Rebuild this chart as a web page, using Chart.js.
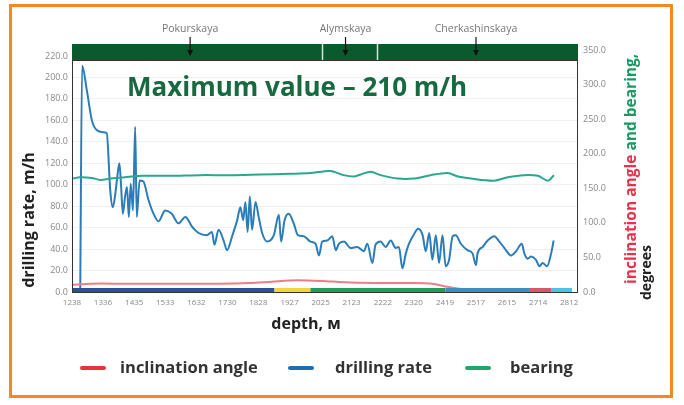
<!DOCTYPE html>
<html>
<head>
<meta charset="utf-8">
<script src="https://cdn.jsdelivr.net/npm/chart.js@4.4.1/dist/chart.umd.min.js"></script>
<style>
  html, body { margin: 0; padding: 0; background: #fff; }
  #wrap { position: relative; width: 684px; height: 405px; overflow: hidden; }
  #frame { position: absolute; left: 9px; top: 4px; width: 658px; height: 388px; border: 3px solid #f5891f; pointer-events: none; }
  canvas { position: absolute; left: 0; top: 0; }
  .leg { position: absolute; top: 357px; font: bold 16.5px "Open Sans", sans-serif; color: #333; line-height: 20px; }
  .sw { position: absolute; top: 366px; width: 26px; height: 4px; border-radius: 2px; }
</style>
</head>
<body>
<div id="wrap">
  <canvas id="chart" width="684" height="405"></canvas>
  <div class="sw" style="left:80px;background:#e8323c"></div>
  <div class="leg" style="left:120px">inclination angle</div>
  <div class="sw" style="left:288px;background:#1f6fb0"></div>
  <div class="leg" style="left:335px">drilling rate</div>
  <div class="sw" style="left:465px;background:#1fa86b"></div>
  <div class="leg" style="left:510px">bearing</div>
  <div id="frame"></div>
</div>
<script>
// depth ticks along the bottom
const depthTicks = [1238, 1336, 1435, 1533, 1632, 1730, 1828, 1927, 2025, 2123, 2222, 2320, 2419, 2517, 2615, 2714, 2812];
const rateTicks = [0, 20, 40, 60, 80, 100, 120, 140, 160, 180, 200, 220];
const degTicks = [0, 50, 100, 150, 200, 250, 300, 350];

// drilling rate, m/h
const rateDepth = [1264, 1270, 1285, 1301, 1316, 1337, 1348, 1359, 1367, 1374, 1380, 1388, 1393, 1399, 1406, 1412, 1418, 1424, 1431, 1438,
  1443, 1452, 1464, 1480, 1496, 1512, 1533, 1554, 1575, 1597, 1618, 1639, 1665, 1681, 1689, 1702, 1718, 1729, 1745, 1761,
  1771, 1780, 1787, 1794, 1801, 1808, 1819, 1829, 1840, 1856, 1877, 1893, 1900, 1911, 1924, 1940, 1953, 1972, 1993, 2009,
  2020, 2030, 2046, 2062, 2073, 2083, 2099, 2120, 2141, 2162, 2173, 2189, 2199, 2215, 2231, 2247, 2263, 2273, 2284, 2295,
  2305, 2319, 2334, 2348, 2358, 2369, 2379, 2390, 2400, 2411, 2421, 2432, 2443, 2453, 2469, 2490, 2506, 2517, 2522, 2538,
  2554, 2575, 2591, 2607, 2628, 2644, 2662, 2670, 2681, 2691, 2707, 2718, 2728, 2742, 2755, 2763];
const rateValue = [0, 211, 188, 160, 151, 149, 148, 95, 79, 89, 104, 120, 101, 73, 89, 98, 70, 101, 76, 154,
  70, 104, 103, 86, 73, 66, 76, 73, 64, 70, 61, 55, 53, 56, 44, 58, 48, 39, 52, 67,
  79, 67, 84, 56, 89, 58, 84, 70, 55, 47, 53, 72, 47, 67, 73, 64, 53, 52, 47, 45,
  34, 47, 48, 52, 39, 45, 47, 41, 42, 38, 45, 27, 44, 47, 42, 48, 41, 42, 22, 36,
  45, 53, 59, 53, 38, 55, 30, 53, 27, 53, 24, 30, 52, 53, 45, 39, 36, 25, 36, 42,
  48, 52, 47, 41, 34, 38, 45, 36, 31, 33, 30, 24, 27, 24, 36, 48];

// bearing, degrees
const bearingDepth = [1241, 1263, 1301, 1327, 1359, 1406, 1463, 1549, 1644, 1739, 1835, 1930, 1993, 2057, 2098, 2130, 2152, 2184,
  2215, 2269, 2320, 2374, 2428, 2460, 2501, 2574, 2618, 2669, 2713, 2745, 2764];
const bearingValue = [164, 166, 165, 162, 164, 166, 168, 168, 169, 169, 170, 171, 172, 175, 169, 167, 170, 174,
  169, 164, 164, 169, 172, 167, 164, 161, 166, 169, 168, 161, 169];

// inclination angle, degrees
const inclDepth = [1238, 1300, 1400, 1500, 1600, 1700, 1800, 1870, 1950, 2030, 2100, 2200, 2300, 2380, 2420, 2480, 2600, 2700, 2764];
const inclValue = [10, 12, 12, 12, 12, 12, 13, 15, 17, 16, 14, 13, 13, 12, 8, 4, 3, 3, 3];

// formations on the top band
const formationNames = ["Pokurskaya", "Alymskaya", "Cherkashinskaya"];
const formationMark = [1612, 2104, 2517];
const formationBounds = [2028, 2203];

// strata strip under the plot
const strataFrom = [1238, 1879, 1993, 2420, 2685, 2755];
const strataTo = [1879, 1993, 2420, 2685, 2755, 2821];
const strataColor = ["#2d4f9a", "#f2d43c", "#1f9e5a", "#3b8fc2", "#d9576a", "#4cc3e6"];

const pts = (xs, ys) => xs.map((x, i) => ({ x: x, y: ys[i] }));

const decor = {
  id: "decor",
  afterDraw(chart) {
    const ctx = chart.ctx;
    const a = chart.chartArea;
    const x = chart.scales.x;
    ctx.save();

    // formation band
    ctx.fillStyle = "#0b5a2e";
    ctx.fillRect(a.left, a.top - 6, a.right - a.left, 16);
    ctx.strokeStyle = "#cfe9d8";
    ctx.lineWidth = 1.5;
    formationBounds.forEach(d => {
      const px = Math.round(x.getPixelForValue(d)) + 0.5;
      ctx.beginPath(); ctx.moveTo(px, a.top - 6); ctx.lineTo(px, a.top + 10); ctx.stroke();
    });
    ctx.font = "10.5px 'Open Sans', sans-serif";
    ctx.textAlign = "center";
    ctx.textBaseline = "middle";
    formationNames.forEach((n, i) => {
      const px = x.getPixelForValue(formationMark[i]);
      ctx.fillStyle = "#777";
      ctx.fillText(n, px, 29);
      ctx.strokeStyle = "#111";
      ctx.lineWidth = 1.2;
      ctx.beginPath(); ctx.moveTo(px, 37); ctx.lineTo(px, 55); ctx.stroke();
      ctx.fillStyle = "#111";
      ctx.beginPath(); ctx.moveTo(px - 3, 50); ctx.lineTo(px + 3, 50); ctx.lineTo(px, 56); ctx.closePath(); ctx.fill();
    });

    // strata strip
    strataFrom.forEach((d, i) => {
      const x0 = x.getPixelForValue(d), x1 = x.getPixelForValue(strataTo[i]);
      ctx.fillStyle = strataColor[i];
      ctx.fillRect(x0, a.bottom - 4, x1 - x0, 4);
    });

    // plot frame
    ctx.strokeStyle = "#333";
    ctx.lineWidth = 1;
    ctx.strokeRect(a.left + 0.5, a.top + 10.5, a.right - a.left - 1, a.bottom - a.top - 10);

    // headline
    ctx.fillStyle = "#17693f";
    ctx.font = "bold 26px 'Open Sans', sans-serif";
    ctx.textAlign = "left";
    ctx.fillText("Maximum value \u2013 210 m/h", 127, 89);

    // axis titles
    ctx.font = "bold 16px 'Open Sans', sans-serif";
    ctx.fillStyle = "#222";
    ctx.textAlign = "center";
    ctx.fillText("depth, \u043c", 306, 324);

    ctx.save();
    ctx.translate(29, 220);
    ctx.rotate(-Math.PI / 2);
    ctx.fillText("drilling rate, m/h", 0, 0);
    ctx.restore();

    ctx.font = "bold 15.5px 'Open Sans', sans-serif";
    ctx.save();
    ctx.translate(632, 284);
    ctx.rotate(-Math.PI / 2);
    ctx.textAlign = "left";
    ctx.fillStyle = "#e6324a";
    const t1 = "inclination angle ";
    ctx.fillText(t1, 0, 0);
    ctx.fillStyle = "#1a9a62";
    ctx.fillText("and bearing,", ctx.measureText(t1).width, 0);
    ctx.restore();

    ctx.font = "bold 14px 'Open Sans', sans-serif";
    ctx.save();
    ctx.translate(647, 300);
    ctx.rotate(-Math.PI / 2);
    ctx.textAlign = "left";
    ctx.fillStyle = "#222";
    ctx.fillText("degrees", 0, 0);
    ctx.restore();

    ctx.restore();
  }
};

new Chart(document.getElementById("chart"), {
  type: "line",
  data: {
    datasets: [
      {
        label: "inclination angle",
        data: pts(inclDepth, inclValue),
        yAxisID: "y2",
        borderColor: "#ee7d88",
        borderWidth: 2,
        pointRadius: 0,
        tension: 0.3
      },
      {
        label: "bearing",
        data: pts(bearingDepth, bearingValue),
        yAxisID: "y2",
        borderColor: "#2aa88f",
        borderWidth: 2,
        pointRadius: 0,
        tension: 0.3
      },
      {
        label: "drilling rate",
        data: pts(rateDepth, rateValue),
        yAxisID: "y",
        borderColor: "#2b7db9",
        borderWidth: 2,
        pointRadius: 0,
        cubicInterpolationMode: "monotone"
      }
    ]
  },
  options: {
    responsive: false,
    animation: false,
    layout: { padding: { top: 50, bottom: 83, left: 0, right: 0 } },
    plugins: { legend: { display: false }, tooltip: { enabled: false } },
    scales: {
      x: {
        type: "linear",
        min: 1238,
        max: 2840,
        afterFit: s => { s.height = 30; },
        afterBuildTicks: s => { s.ticks = depthTicks.map(v => ({ value: v })); },
        ticks: { color: "#888", font: { size: 8, family: "'Open Sans', sans-serif" }, padding: 6, maxRotation: 0, autoSkip: false, callback: v => v },
        grid: { display: false, drawTicks: false },
        border: { display: false }
      },
      y: {
        position: "left",
        min: 0,
        max: 225.6,
        afterFit: s => { s.width = 72; },
        afterBuildTicks: s => { s.ticks = rateTicks.map(v => ({ value: v })); },
        ticks: { color: "#888", font: { size: 9, family: "'Open Sans', sans-serif" }, padding: 4, callback: v => v.toFixed(1) },
        grid: { color: "#f0f0f0", drawTicks: false },
        border: { display: false }
      },
      y2: {
        position: "right",
        min: 0,
        max: 350,
        afterFit: s => { s.width = 106; },
        afterBuildTicks: s => { s.ticks = degTicks.map(v => ({ value: v })); },
        ticks: { color: "#888", font: { size: 9, family: "'Open Sans', sans-serif" }, padding: 5, callback: v => v.toFixed(1) },
        grid: { display: false, drawTicks: false },
        border: { display: false }
      }
    }
  },
  plugins: [decor]
});
</script>
</body>
</html>
